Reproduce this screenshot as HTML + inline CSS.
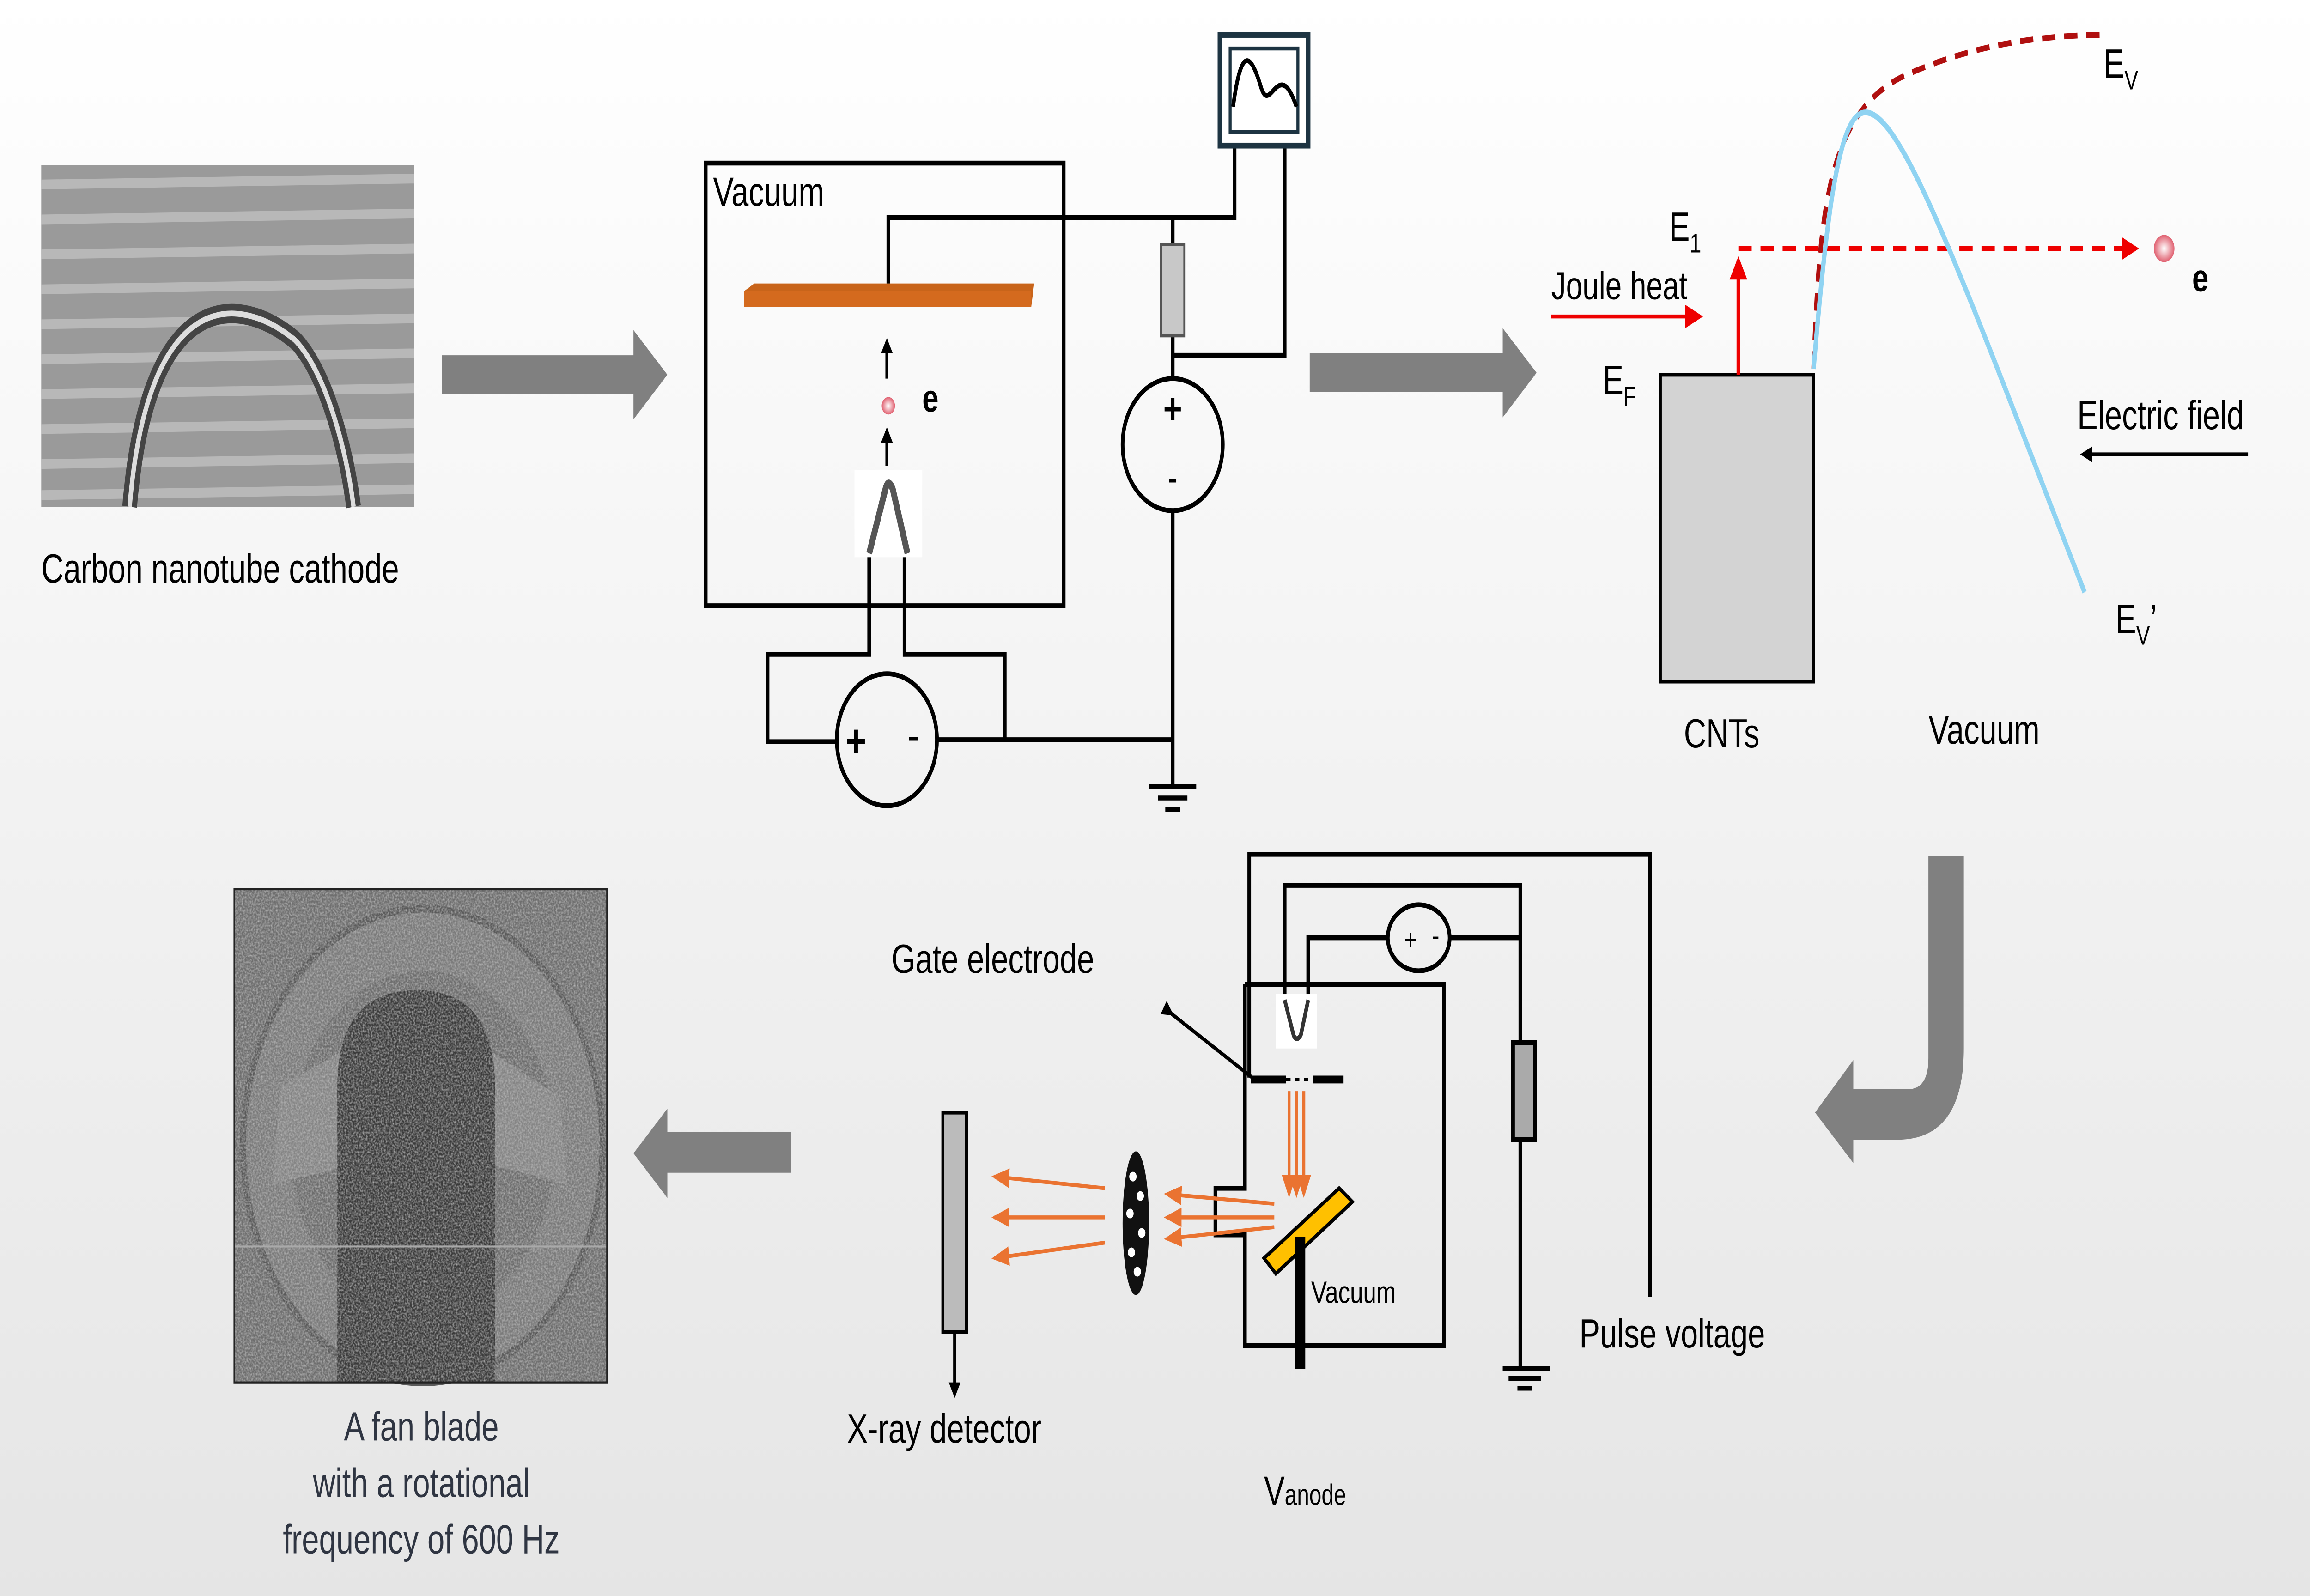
<!DOCTYPE html>
<html><head><meta charset="utf-8">
<style>
html,body{margin:0;padding:0;width:100%;height:100%;overflow:hidden;background:#f2f2f2;}
svg{display:block;position:fixed;left:0;top:0;width:100vw;height:100vh;}
text{font-family:"Liberation Sans",Arial,sans-serif;}
</style></head><body>
<svg viewBox="0 0 1568 822" preserveAspectRatio="none" xmlns="http://www.w3.org/2000/svg">
<defs>
<linearGradient id="bg" x1="0" y1="0" x2="0" y2="1"><stop offset="0" stop-color="#ffffff"/><stop offset="1" stop-color="#e5e5e5"/></linearGradient>
<filter id="noise" x="0" y="0" width="100%" height="100%">
<feTurbulence type="fractalNoise" baseFrequency="0.9" numOctaves="2" seed="3"/>
<feColorMatrix type="matrix" values="0 0 0 0 0.5  0 0 0 0 0.5  0 0 0 0 0.5  0 0 0 1.6 -0.55"/>
</filter>
<marker id="ab" markerWidth="8" markerHeight="8" refX="6" refY="4" orient="auto" markerUnits="userSpaceOnUse"><path d="M0,0 L8,4 L0,8 z" fill="#000"/></marker>
<marker id="ar" markerWidth="12" markerHeight="12" refX="10" refY="6" orient="auto" markerUnits="userSpaceOnUse"><path d="M0,0 L12,6 L0,12 z" fill="#e00"/></marker>
<marker id="ao" markerWidth="12" markerHeight="10" refX="10" refY="5" orient="auto" markerUnits="userSpaceOnUse"><path d="M0,0 L12,5 L0,10 z" fill="#ea7331"/></marker>
<radialGradient id="ball"><stop offset="0" stop-color="#fff"/><stop offset="1" stop-color="#e06070"/></radialGradient>
</defs>
<rect width="1568" height="822" fill="url(#bg)"/>

<rect x="28" y="85" width="253" height="176" fill="#9a9a9a"/>
<g stroke="#b8b8b8" stroke-width="5">
<line x1="28" y1="95" x2="281" y2="92"/><line x1="28" y1="113" x2="281" y2="110"/><line x1="28" y1="131" x2="281" y2="128"/><line x1="28" y1="149" x2="281" y2="146"/><line x1="28" y1="167" x2="281" y2="164"/><line x1="28" y1="185" x2="281" y2="182"/><line x1="28" y1="203" x2="281" y2="200"/><line x1="28" y1="221" x2="281" y2="218"/><line x1="28" y1="239" x2="281" y2="236"/><line x1="28" y1="255" x2="281" y2="252"/>
</g>
<path d="M88,261 C100,150 160,150 200,175 C220,190 235,230 240,261" fill="none" stroke="#444" stroke-width="10"/>
<path d="M88,261 C100,150 160,150 200,175 C220,190 235,230 240,261" fill="none" stroke="#ddd" stroke-width="3"/>
<text x="28" y="300" font-size="21">Carbon nanotube cathode</text>

<path d="M300,183 L430,183 L430,170 L453,193 L430,216 L430,203 L300,203 z" fill="#808080"/>

<rect x="479" y="84" width="243" height="228" fill="none" stroke="#000" stroke-width="2.5"/>
<text x="484" y="106" font-size="21">Vacuum</text>
<path d="M505,150 L512,146 L702,146 L700,158 L505,158 z" fill="#c8641a"/>
<path d="M505,150 L700,150 L700,158 L505,158 z" fill="#d46a1e"/>
<g fill="none" stroke="#000" stroke-width="2.5">
<polyline points="603,146 603,112 838,112 838,75"/>
<line x1="796" y1="112" x2="796" y2="126"/>
<line x1="796" y1="173" x2="796" y2="195"/>
<polyline points="796,183 872,183 872,75"/>
<circle cx="796" cy="229" r="34"/>
<line x1="796" y1="263" x2="796" y2="405"/>
<line x1="636" y1="381" x2="796" y2="381"/>
<polyline points="590,285 590,337 521,337 521,382 568,382"/>
<polyline points="614,285 614,337 682,337 682,382"/>
<circle cx="602" cy="381" r="34"/>
<line x1="780" y1="405" x2="812" y2="405"/><line x1="786" y1="411" x2="806" y2="411"/><line x1="791" y1="417" x2="801" y2="417"/>
</g>
<rect x="788" y="126" width="16" height="47" fill="#c8c8c8" stroke="#555" stroke-width="1.5"/>
<text x="796" y="218" font-size="22" text-anchor="middle" font-weight="bold">+</text>
<text x="796" y="253" font-size="20" text-anchor="middle">-</text>
<text x="581" y="390" font-size="24" text-anchor="middle" font-weight="bold">+</text>
<text x="620" y="387" font-size="24" text-anchor="middle">-</text>
<rect x="828" y="18" width="60" height="57" fill="#fff" stroke="#1d3442" stroke-width="3"/>
<rect x="835" y="25" width="46" height="43" fill="#fff" stroke="#1d3442" stroke-width="2"/>
<path d="M837,55 C843,20 850,30 856,45 C862,60 868,28 880,55" fill="none" stroke="#000" stroke-width="2.5"/>
<rect x="580" y="242" width="46" height="45" fill="#fff"/>
<path d="M590,285 L601,252 Q603,246 606,252 L616,285" fill="none" stroke="#555" stroke-width="4"/>
<line x1="602" y1="195" x2="602" y2="176" stroke="#000" stroke-width="2" marker-end="url(#ab)"/>
<circle cx="603" cy="209" r="4.5" fill="url(#ball)"/>
<line x1="602" y1="240" x2="602" y2="222" stroke="#000" stroke-width="2" marker-end="url(#ab)"/>
<text x="626" y="212" font-size="20" font-weight="bold">e</text>

<path d="M889,182 L1020,182 L1020,169 L1043,192 L1020,215 L1020,202 L889,202 z" fill="#808080"/>

<rect x="1127" y="193" width="104" height="158" fill="#d3d3d3" stroke="#000" stroke-width="2"/>
<text x="1143" y="385" font-size="21">CNTs</text>
<text x="1309" y="383" font-size="21">Vacuum</text>
<text x="1088" y="203" font-size="21">E<tspan font-size="14" dy="6">F</tspan></text>
<text x="1133" y="124" font-size="21">E<tspan font-size="14" dy="6">1</tspan></text>
<text x="1053" y="154" font-size="20">Joule heat</text>
<line x1="1053" y1="163" x2="1154" y2="163" stroke="#e00" stroke-width="2" marker-end="url(#ar)"/>
<line x1="1180" y1="193" x2="1180" y2="134" stroke="#e00" stroke-width="2.5" marker-end="url(#ar)"/>
<line x1="1180" y1="128" x2="1450" y2="128" stroke="#e00" stroke-width="2.5" stroke-dasharray="9,6" marker-end="url(#ar)"/>
<circle cx="1469" cy="128" r="7" fill="url(#ball)"/>
<text x="1488" y="150" font-size="20" font-weight="bold">e</text>
<path d="M1231,190 C1235,110 1240,60 1290,40 C1340,22 1390,18 1430,18" fill="none" stroke="#b01010" stroke-width="3" stroke-dasharray="9,6"/>
<path d="M1231,190 C1240,110 1248,60 1265,58 C1290,55 1330,140 1415,305" fill="none" stroke="#8fd3f2" stroke-width="3"/>
<text x="1428" y="40" font-size="21">E<tspan font-size="14" dy="6">V</tspan></text>
<text x="1436" y="326" font-size="21">E<tspan font-size="14" dy="6">V</tspan><tspan dy="-6">’</tspan></text>
<text x="1410" y="221" font-size="21">Electric field</text>
<line x1="1526" y1="234" x2="1414" y2="234" stroke="#000" stroke-width="2" marker-end="url(#ab)"/>

<path d="M1309,441 L1333,441 L1333,540 Q1333,587 1288,587 L1258,587 L1258,599 L1232,573 L1258,546 L1258,561 L1295,561 Q1309,561 1309,545 z" fill="#808080"/>

<g fill="none" stroke="#000" stroke-width="2.5">
<polyline points="848,555 848,440 1120,440 1120,668"/>
<polyline points="872,515 872,456 1032,456 1032,537"/>
<polyline points="888,515 888,483 942,483"/>
<line x1="984" y1="483" x2="1032" y2="483"/>
<ellipse cx="963" cy="483" rx="21" ry="17"/>
<line x1="1032" y1="587" x2="1032" y2="705"/>
<line x1="1020" y1="705" x2="1052" y2="705"/><line x1="1024" y1="710" x2="1046" y2="710"/><line x1="1030" y1="715" x2="1040" y2="715"/>
<polyline points="845,507 980,507 980,693 845,693 845,636 825,636 825,612 845,612 845,507"/>
<line x1="795" y1="522" x2="850" y2="555" stroke-width="2" marker-start="url(#ab)"/>
</g>
<text x="953" y="489" font-size="15">+</text><text x="972" y="487" font-size="15">-</text>
<rect x="1027" y="537" width="15" height="50" fill="#aaa" stroke="#000" stroke-width="2.5"/>
<rect x="866" y="512" width="28" height="28" fill="#fff"/>
<path d="M872,515 L878,533 Q880,537 883,533 L888,515" fill="none" stroke="#333" stroke-width="2.5"/>
<line x1="849" y1="556" x2="873" y2="556" stroke="#000" stroke-width="4"/>
<line x1="891" y1="556" x2="912" y2="556" stroke="#000" stroke-width="4"/>
<line x1="873" y1="556" x2="891" y2="556" stroke="#000" stroke-width="1.5" stroke-dasharray="3,3"/>
<g stroke="#ea7331" stroke-width="2">
<line x1="875" y1="562" x2="875" y2="615" marker-end="url(#ao)"/>
<line x1="880" y1="562" x2="880" y2="615" marker-end="url(#ao)"/>
<line x1="885" y1="562" x2="885" y2="615" marker-end="url(#ao)"/>
<line x1="865" y1="620" x2="792" y2="615" marker-end="url(#ao)"/>
<line x1="865" y1="627" x2="792" y2="627" marker-end="url(#ao)"/>
<line x1="865" y1="632" x2="792" y2="638" marker-end="url(#ao)"/>
<line x1="750" y1="612" x2="675" y2="606" marker-end="url(#ao)"/>
<line x1="750" y1="627" x2="675" y2="627" marker-end="url(#ao)"/>
<line x1="750" y1="640" x2="675" y2="648" marker-end="url(#ao)"/>
</g>
<path d="M858,648 L909,612 L918,619 L866,656 z" fill="#ffc000" stroke="#000" stroke-width="2"/>
<rect x="879" y="637" width="7" height="68" fill="#000"/>
<text x="890" y="671" font-size="16">Vacuum</text>
<text x="858" y="775" font-size="21">V<tspan font-size="15">anode</tspan></text>
<ellipse cx="771" cy="630" rx="9" ry="37" fill="#111"/>
<g fill="#fff"><circle cx="769" cy="606" r="2.5"/><circle cx="774" cy="616" r="2.5"/><circle cx="767" cy="625" r="2.5"/><circle cx="775" cy="635" r="2.5"/><circle cx="768" cy="645" r="2.5"/><circle cx="772" cy="655" r="2.5"/></g>
<rect x="640" y="573" width="16" height="113" fill="#bbb" stroke="#000" stroke-width="2"/>
<line x1="648" y1="686" x2="648" y2="718" stroke="#000" stroke-width="2" marker-end="url(#ab)"/>
<text x="575" y="743" font-size="21">X-ray detector</text>
<text x="605" y="501" font-size="21">Gate electrode</text>
<text x="1072" y="694" font-size="21">Pulse voltage</text>

<path d="M537,583 L453,583 L453,571 L430,594 L453,617 L453,604 L537,604 z" fill="#808080"/>

<rect x="159" y="458" width="253" height="254" fill="#6e6e6e"/>
<circle cx="287" cy="590" r="122" fill="#7a7a7a" stroke="#5a5a5a" stroke-width="4"/>
<circle cx="287" cy="590" r="90" fill="#6d6d6d"/>
<path d="M190,560 L235,540 L240,600 L185,610 z M330,540 L380,565 L385,610 L335,600 z" fill="#858585"/>
<path d="M229,712 L229,560 Q229,510 283,510 Q336,510 336,560 L336,712 z" fill="#3a3a3a"/>
<rect x="159" y="458" width="253" height="254" filter="url(#noise)"/>
<line x1="159" y1="642" x2="412" y2="642" stroke="#aaa" stroke-width="1"/>
<rect x="159" y="458" width="253" height="254" fill="none" stroke="#222" stroke-width="1"/>
<g fill="#2f3542" font-size="21" text-anchor="middle">
<text x="286" y="742">A fan blade</text>
<text x="286" y="771">with a rotational</text>
<text x="286" y="800">frequency of 600 Hz</text>
</g>
</svg>
</body></html>
